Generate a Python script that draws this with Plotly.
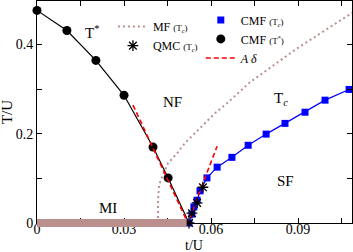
import plotly.graph_objects as go

# ---- data ----
tstar_t = [0.0, 0.0103, 0.0203, 0.0300, 0.0400, 0.0452]
tstar_T = [0.476, 0.431, 0.364, 0.286, 0.170, 0.101]
tstar_end_t = 0.0524
tstar_end_T = 0.0

tc_t = [0.0524, 0.0534, 0.0541, 0.0552, 0.0562, 0.0586, 0.0621, 0.0672,
        0.0728, 0.0790, 0.0855, 0.0924, 0.0993, 0.1076]
tc_T = [0.000, 0.020, 0.036, 0.051, 0.072, 0.101, 0.125, 0.147,
        0.174, 0.199, 0.223, 0.248, 0.275, 0.299]
tc_line_end_t = 0.1090
tc_line_end_T = 0.302

qmc_t = [0.0524, 0.0534, 0.0552, 0.0572]
qmc_T = [0.000, 0.022, 0.045, 0.080]

mf_t = [0.0417, 0.0417, 0.0421, 0.0431, 0.0452, 0.0483, 0.0510, 0.0545,
        0.0579, 0.0614, 0.0655, 0.0693, 0.0734, 0.0897, 0.1069, 0.1090]
mf_T = [0.000, 0.051, 0.085, 0.103, 0.134, 0.156, 0.179, 0.201,
        0.223, 0.246, 0.268, 0.291, 0.315, 0.391, 0.465, 0.472]

adelta_t = [0.0331, 0.0520, 0.0621]
adelta_T = [0.264, 0.000, 0.172]

mi_range = [0.0, 0.0516]

x_range = [0.0, 0.1086]
y_range = [0.0, 0.497]
x_tickvals = [0, 0.03, 0.06, 0.09]
x_ticktext = ["0", "0.03", "0.06", "0.09"]
y_tickvals = [0, 0.2, 0.4]
y_ticktext = ["0", "0.2", "0.4"]
x_title = "t/U"
y_title = "T/U"

region_labels = ["T<sup>*</sup>", "NF", "T<sub><i>c</i></sub>", "SF", "MI"]
region_t = [0.0190, 0.0466, 0.0841, 0.0855, 0.0245]
region_T = [0.428, 0.272, 0.277, 0.094, 0.0335]

SERIF = "Liberation Serif"
ROSY = "#bc8f8f"
SMALL = "<span style='font-size:9px'>(T<sub><i>c</i></sub>)</span>"

fig = go.Figure()

# MF (Tc) dotted
fig.add_trace(go.Scatter(x=mf_t, y=mf_T, mode="lines",
                         line=dict(color=ROSY, width=2, dash="2px,3px"),
                         name="MF " + SMALL, legend="legend", legendrank=1))
# CMF T* line
fig.add_trace(go.Scatter(x=tstar_t + [tstar_end_t], y=tstar_T + [tstar_end_T],
                         mode="lines", line=dict(color="black", width=1.2),
                         showlegend=False))
# CMF T* markers
fig.add_trace(go.Scatter(x=tstar_t, y=tstar_T, mode="markers",
                         marker=dict(symbol="circle", size=9, color="black"),
                         cliponaxis=False,
                         name="CMF <span style='font-size:9px'>(T<sup>*</sup>)</span>",
                         legend="legend2", legendrank=2))
# CMF Tc line
fig.add_trace(go.Scatter(x=tc_t + [tc_line_end_t], y=tc_T + [tc_line_end_T],
                         mode="lines", line=dict(color="#0000ff", width=1.2),
                         showlegend=False))
# CMF Tc markers
fig.add_trace(go.Scatter(x=tc_t, y=tc_T, mode="markers",
                         marker=dict(symbol="square", size=7, color="#0000ff"),
                         cliponaxis=False,
                         name="CMF " + SMALL, legend="legend2", legendrank=1))
# A delta
fig.add_trace(go.Scatter(x=adelta_t, y=adelta_T, mode="lines",
                         line=dict(color="#ff0000", width=1.6, dash="5px,3px"),
                         name="<i>A δ</i>", legend="legend2", legendrank=3))
# QMC asterisks
fig.add_trace(go.Scatter(x=qmc_t, y=qmc_T, mode="markers",
                         marker=dict(symbol="asterisk-open", size=9, color="black",
                                     line=dict(color="black", width=1.3)),
                         cliponaxis=False,
                         name="QMC " + SMALL, legend="legend", legendrank=2))

# MI bar along T=0
fig.add_shape(type="line", xref="x", yref="paper",
              x0=mi_range[0], x1=mi_range[1], y0=0, y1=0,
              line=dict(color=ROSY, width=8), layer="above")

for txt, xx, yy in zip(region_labels, region_t, region_T):
    fig.add_annotation(x=xx, y=yy, text=txt, showarrow=False,
                       font=dict(family=SERIF, size=15, color="black"))

# axis titles
fig.add_annotation(xref="paper", yref="paper", x=0.497, y=-0.1,
                   text=x_title, showarrow=False, xanchor="center",
                   yanchor="middle", font=dict(family=SERIF, size=14))
fig.add_annotation(xref="paper", yref="paper", x=-0.095, y=0.5,
                   text=y_title, showarrow=False, textangle=-90,
                   xanchor="center", yanchor="middle",
                   font=dict(family=SERIF, size=15))

axis_common = dict(showline=True, linecolor="black", linewidth=1,
                   mirror="allticks", ticks="inside", ticklen=5,
                   tickcolor="black", showgrid=False, zeroline=False,
                   automargin=False,
                   tickfont=dict(family=SERIF, size=14, color="black"))

fig.update_xaxes(range=x_range, tickvals=x_tickvals, ticktext=x_ticktext,
                 minor=dict(dtick=0.015, tick0=0, ticks="inside", ticklen=5,
                            tickcolor="black"),
                 ticklabelstandoff=-7,
                 **axis_common)
fig.update_yaxes(range=y_range, tickvals=y_tickvals, ticktext=y_ticktext,
                 minor=dict(dtick=0.1, tick0=0, ticks="inside", ticklen=5,
                            tickcolor="black"),
                 **axis_common)

fig.update_layout(
    width=353, height=252,
    margin=dict(l=37, r=1, t=1, b=29, autoexpand=False),
    paper_bgcolor="white", plot_bgcolor="white",
    font=dict(family=SERIF, size=12, color="black"),
    legend=dict(x=0.241, y=0.95, xanchor="left", yanchor="top",
                bgcolor="rgba(0,0,0,0)", itemwidth=30,
                font=dict(family=SERIF, size=12)),
    legend2=dict(x=0.52, y=0.98, xanchor="left", yanchor="top",
                 bgcolor="rgba(0,0,0,0)", itemwidth=30,
                 font=dict(family=SERIF, size=12)),
)

fig.write_html("out.html",
               config={"displayModeBar": False},
               post_script="document.body.style.margin='0px';"
                           "document.body.style.overflow='hidden';")
